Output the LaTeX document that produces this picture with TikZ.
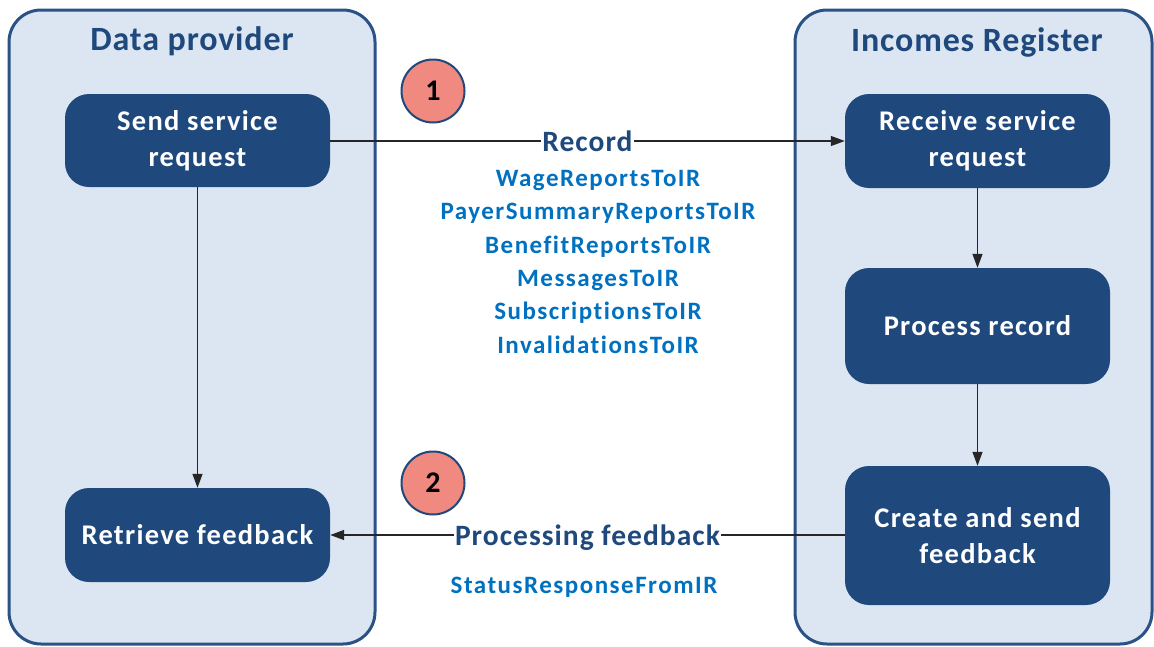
\documentclass[tikz,border=0pt]{standalone}
\usepackage{fontspec}
\setmainfont{Carlito}[Ligatures=NoCommon]
\usetikzlibrary{arrows.meta}
\definecolor{panelfill}{HTML}{DCE6F2}
\definecolor{paneldraw}{HTML}{2A5287}
\definecolor{boxfill}{HTML}{1F497D}
\definecolor{titlecol}{HTML}{1F497D}
\definecolor{itemcol}{HTML}{0070C0}
\definecolor{circfill}{HTML}{F08A80}
\newcommand{\lsfont}[3]{\fontsize{#1}{#2}\selectfont\bfseries\addfontfeatures{LetterSpace=#3}}
\tikzset{
  panel/.style={draw=paneldraw, line width=3pt, fill=panelfill, rounded corners=32pt},
  ptitle/.style={text=titlecol, anchor=base, inner sep=0pt, font=\lsfont{34}{40}{2.5}},
  stepbox/.style={fill=boxfill, draw=none, rounded corners=24pt, text=white,
    minimum width=265pt, align=center, font=\lsfont{28.5}{36}{4.5}},
  flowlbl/.style={fill=white, text=titlecol, inner xsep=1.5pt, inner ysep=1pt, text depth=0pt, font=\lsfont{29.5}{34}{3.5}},
  items/.style={text=itemcol, align=center, anchor=base, inner sep=0pt, font=\lsfont{25}{33.3}{6}},
  numcirc/.style={circle, draw=titlecol, line width=2pt, fill=circfill, minimum size=63pt, inner sep=0pt, font=\fontsize{30}{34}\selectfont\bfseries},
  conn/.style={draw=black!85, line width=1.3pt, -{Triangle[length=14pt,width=10pt]}},
}
\begin{document}
\begin{tikzpicture}[x=1pt,y=-1pt]
\useasboundingbox (0,0) rectangle (1154,646);
\draw[panel] (9,10) rectangle (375,644);
\draw[panel] (795,10) rectangle (1152,644);
\node[ptitle] (tdp) at (192,50) {Data provider};
\node[ptitle] (tir) at (977,51) {Incomes Register};
\node[stepbox, minimum height=93pt] (send) at (197.5,140.5) {Send service\\request};
\node[stepbox, minimum height=94pt] (retr) at (197.5,535) {Retrieve feedback};
\node[stepbox, minimum height=94pt] (recv) at (977.5,141) {Receive service\\request};
\node[stepbox, minimum height=116pt] (proc) at (977.5,326) {Process record};
\node[stepbox, minimum height=139pt] (crea) at (977.5,535.5) {Create and send\\feedback};
\node[numcirc] (c1) at (433,91) {1};
\node[numcirc] (c2) at (433,483) {2};
\draw[conn] (send.east |- recv.west) -- node[flowlbl, pos=0.5] (rec) {Record} (recv.west);
\draw[conn] (crea.west |- retr.east) -- node[flowlbl, pos=0.5] (pf) {Processing feedback} (retr.east);
\draw[conn] (send.south) -- (retr.north);
\draw[conn] (recv.south) -- (proc.north);
\draw[conn] (proc.south) -- (crea.north);
\node[items] (lst) at (598,353) {WageReportsToIR\\PayerSummaryReportsToIR\\BenefitReportsToIR\\MessagesToIR\\SubscriptionsToIR\\InvalidationsToIR};
\node[items] (sr) at (584,593) {StatusResponseFromIR};
\end{tikzpicture}
\end{document}
